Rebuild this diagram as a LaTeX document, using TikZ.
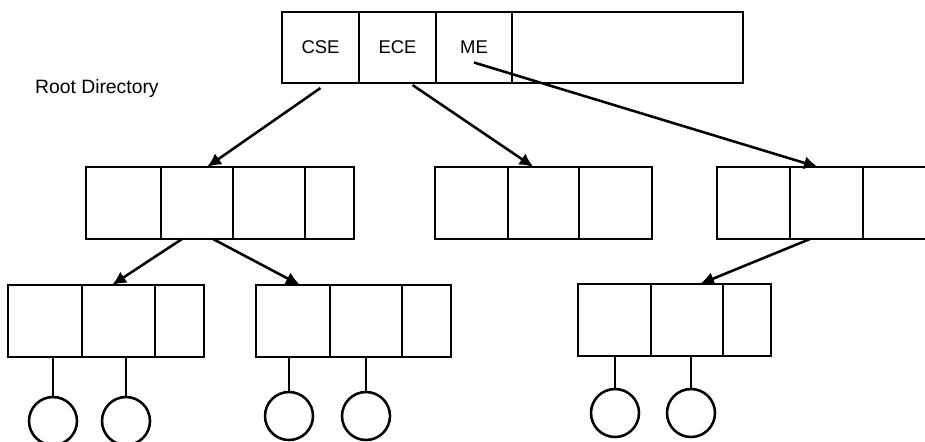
\documentclass[tikz,border=0pt]{standalone}
\usepackage{fontspec}
\setmainfont{Liberation Sans}
\usepackage{tikz}
\usetikzlibrary{
  arrows.meta,
  positioning
}
\tikzset{
  cell/.style={draw,rectangle,inner sep=0pt,outer sep=0pt,
    minimum height=1.44cm,font=\fontsize{10.5}{12}\selectfont},
  file/.style={draw,circle,inner sep=0pt,outer sep=0pt,minimum size=0.96cm},
  link/.style={-{Latex[length=8pt,width=7.5pt]}},
}

\begin{document}
\begin{tikzpicture}[x=0.02cm,y=-0.02cm,line width=1.45pt]
\useasboundingbox (0,0) rectangle (925,441);
% root directory
\node[anchor=base west] (root) at (28,93) {\fontsize{11}{13}\selectfont Root Directory};
\node[cell,minimum width=1.54cm,minimum height=1.42cm] (r1) at (320.5,47.5) {CSE};
\node[cell,minimum width=1.54cm,minimum height=1.42cm] (r2) at (397.5,47.5) {ECE};
\node[cell,minimum width=1.52cm,minimum height=1.42cm] (r3) at (474,47.5) {ME};
\node[cell,minimum width=4.62cm,minimum height=1.42cm] (r4) at (627.5,47.5) {};
% second level
\node[cell,minimum width=1.50cm] (a1) at (123.5,203) {};
\node[cell,minimum width=1.44cm] (a2) at (197,203) {};
\node[cell,minimum width=1.44cm] (a3) at (269,203) {};
\node[cell,minimum width=0.98cm] (a4) at (329.5,203) {};
\node[cell,minimum width=1.46cm] (b1) at (471.5,203) {};
\node[cell,minimum width=1.42cm] (b2) at (543.5,203) {};
\node[cell,minimum width=1.46cm] (b3) at (615.5,203) {};
\node[cell,minimum width=1.46cm] (c1) at (753.5,203) {};
\node[cell,minimum width=1.46cm] (c2) at (826.5,203) {};
\node[cell,minimum width=1.46cm] (c3) at (899.5,203) {};
% third level
\node[cell,minimum width=1.48cm] (d1) at (45,321) {};
\node[cell,minimum width=1.46cm] (d2) at (118.5,321) {};
\node[cell,minimum width=0.98cm] (d3) at (179.5,321) {};
\node[cell,minimum width=1.48cm] (e1) at (293,321) {};
\node[cell,minimum width=1.44cm] (e2) at (366,321) {};
\node[cell,minimum width=0.98cm] (e3) at (426.5,321) {};
\node[cell,minimum width=1.46cm] (f1) at (614.5,320) {};
\node[cell,minimum width=1.44cm] (f2) at (687,320) {};
\node[cell,minimum width=0.96cm] (f3) at (747,320) {};
% files
\node[file] (d1f) at (53,421) {};
\node[file] (d2f) at (126,421) {};
\node[file] (e1f) at (289,416) {};
\node[file] (e2f) at (366,416) {};
\node[file] (f1f) at (615,413) {};
\node[file] (f2f) at (691,413) {};
\draw (d1f) -- (d1f |- d1.south);
\draw (d2f) -- (d2f |- d2.south);
\draw (e1f) -- (e1f |- e1.south);
\draw (e2f) -- (e2f |- e2.south);
\draw (f1f) -- (f1f |- f1.south);
\draw (f2f) -- (f2f |- f2.south);
% pointers
\draw[link] ([yshift=-0.1cm]r1.south) -- ([xshift=0.2cm]a2.north);
\draw[link] ([xshift=0.3cm,yshift=-0.04cm]r2.south) -- ([xshift=-0.2cm]b2.north);
\draw[link] ([yshift=-0.3cm]r3.center) -- ([xshift=-0.17cm]c2.north);
\draw[link] ([xshift=-0.3cm]a2.south) -- ([xshift=-0.13cm]d2.north);
\draw[link] ([xshift=0.32cm]a2.south) -- ([xshift=0.14cm]e1.north);
\draw[link] ([xshift=-0.33cm]c2.south) -- ([xshift=0.26cm]f2.north);
\end{tikzpicture}
\end{document}
